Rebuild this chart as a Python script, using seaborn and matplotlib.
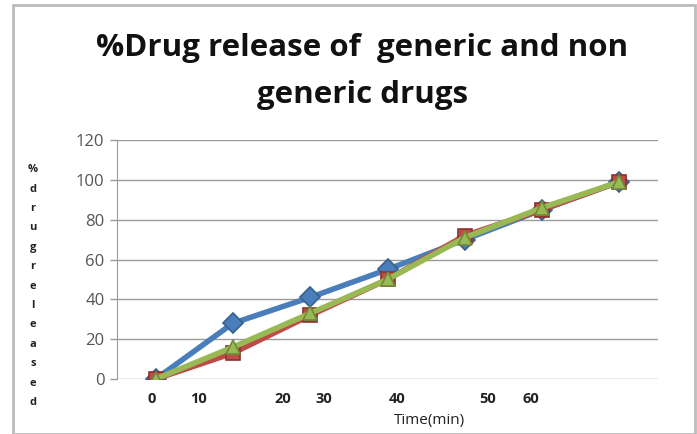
import matplotlib
matplotlib.use("Agg")
import matplotlib.pyplot as plt
import pandas as pd
import seaborn as sns
from matplotlib.patches import Rectangle

# data (7 time points, category axis)
points = [0, 1, 2, 3, 4, 5, 6]
blue_vals = [0, 28, 41, 55, 70, 85, 99]
red_vals = [0, 13, 32, 50, 72, 85, 99]
green_vals = [0, 16, 33, 50, 71, 86, 99]
series_names = ["Series1", "Series2", "Series3"]

# the odd looking x labels of the original
xlabel_pos = [-0.05, 0.56, 1.64, 2.17, 3.12, 4.30, 4.86]
xlabel_txt = ["0", "10", "20", "30", "40", "50", "60"]
ytick_vals = [0, 20, 40, 60, 80, 100, 120]

df = pd.DataFrame({
    "x": points * 3,
    "y": blue_vals + red_vals + green_vals,
    "s": [series_names[0]] * 7 + [series_names[1]] * 7 + [series_names[2]] * 7,
})

sns.set_style("white")
plt.rcParams["font.family"] = ["Open Sans", "DejaVu Sans"]

fig = plt.figure(figsize=(6.97, 4.34), dpi=100)
ax = fig.add_axes([0.1679, 0.1267, 0.7762, 0.5507])

colors = {"Series1": "#4A7EBB", "Series2": "#BE4B48", "Series3": "#98B954"}
edges = {"Series1": "#35608f", "Series2": "#8c3230", "Series3": "#6f8a3a"}
marks = {"Series1": "D", "Series2": "s", "Series3": "^"}

for name in series_names:
    sub = df[df["s"] == name]
    sns.lineplot(data=sub, x="x", y="y", ax=ax, color=colors[name],
                 marker=marks[name], markersize=10, linewidth=4,
                 markeredgecolor=edges[name], markeredgewidth=1.2,
                 legend=False)

ax.set_xlim(-0.5, 6.5)
ax.set_ylim(0, 120)
ax.set_yticks(ytick_vals)
ax.set_yticklabels([str(v) for v in ytick_vals], fontsize=12, color="#555555")
ax.set_xticks(xlabel_pos)
ax.set_xticklabels(xlabel_txt, fontsize=10.5, fontweight="bold", color="#222222")
ax.tick_params(axis="x", length=0, pad=9)
ax.tick_params(axis="y", length=5, width=1, color="#999999", direction="out", pad=4, left=True)
ax.yaxis.grid(True, color="#9a9a9a", linewidth=1)
ax.xaxis.grid(False)
for side in ["top", "right", "bottom"]:
    ax.spines[side].set_visible(False)
ax.spines["left"].set_color("#999999")
ax.set_xlabel("")
ax.set_ylabel("")

fig.text(0.616, 0.03, "Time(min)", ha="center", va="center", fontsize=11, color="#222222")

ylab = "%drugreleased"
fig.text(0.047, 0.341, "\n".join(ylab), ha="center", va="center", fontsize=8,
         fontweight="bold", color="#222222", linespacing=2.05)

fig.text(0.52, 0.89, "%Drug release of  generic and non", ha="center", va="center",
         fontsize=22.5, fontweight="bold", color="#111111")
fig.text(0.52, 0.78, "generic drugs", ha="center", va="center",
         fontsize=22.5, fontweight="bold", color="#111111")

fig.patches.append(Rectangle((0.019, 0.0), 0.978, 0.988, transform=fig.transFigure,
                             fill=False, edgecolor="#bbbbbb", linewidth=2))

fig.savefig("out.png", dpi=100)
